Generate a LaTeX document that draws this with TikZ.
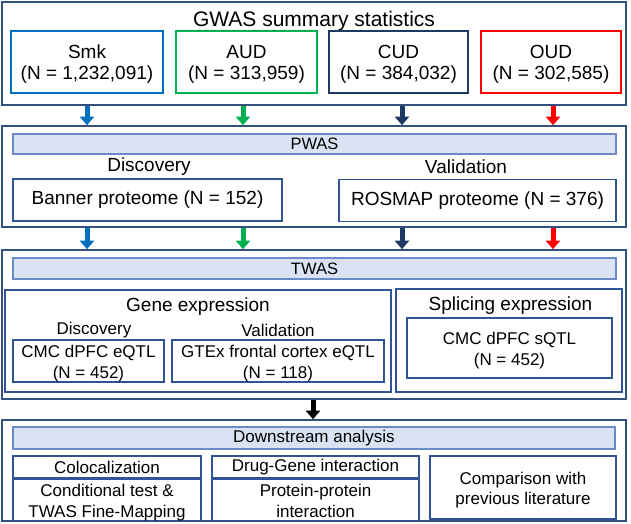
\documentclass[tikz,border=0pt]{standalone}
\usepackage{fontspec}
\setmainfont{Liberation Sans}
\usetikzlibrary{arrows.meta,positioning,calc}
\definecolor{framec}{HTML}{34507F}
\definecolor{boxc}{HTML}{2F5597}
\definecolor{headfill}{HTML}{DAE3F3}
\definecolor{headline}{HTML}{6A8AC8}
\definecolor{smkc}{HTML}{0070C0}
\definecolor{audc}{HTML}{00B050}
\definecolor{cudc}{HTML}{203864}
\definecolor{oudc}{HTML}{FF0000}
% two lines, set a little lower in their box
\newcommand{\dn}[1]{\raisebox{-3pt}[\height][\depth]{\begin{tabular}{@{}c@{}}#1\end{tabular}}}

\begin{document}
\begin{tikzpicture}[
  x=1pt,y=-1pt,
  outer/.style={draw=framec, line width=1.6pt, minimum width=624pt, inner sep=0pt},
  head/.style={draw=headline, fill=headfill, line width=1.1pt, minimum width=603pt, inner sep=0pt, font=\fontsize{16.5}{18}\selectfont},
  inbox/.style={draw=boxc, line width=1.3pt, inner sep=0pt, align=center, font=\fontsize{17}{20.5}\selectfont},
  gbox/.style={draw=#1, line width=1.3pt, inner sep=0pt, minimum height=62pt, align=center, font=\fontsize{19}{21}\selectfont},
  big/.style={inner sep=0pt, font=\fontsize{19}{21}\selectfont},
  small/.style={inner sep=0pt, font=\fontsize{17}{20}\selectfont},
  arr/.style={-{Triangle[width=14pt,length=8.5pt]}, line width=5pt, draw=#1}
]
\useasboundingbox (0,0) rectangle (631,523);

% GWAS
\node[outer, minimum height=103pt] (gwas) at (314,53.5) {};
\node[inner sep=0pt, font=\fontsize{21}{24}\selectfont, anchor=base] (gwast) at (314,26) {GWAS summary statistics};
\node[gbox=smkc, minimum width=152pt] (smk) at (87,62) {\dn{Smk\\(N = 1,232,091)}};
\node[gbox=audc, minimum width=141pt] (aud) at (246.5,62) {\dn{AUD\\(N = 313,959)}};
\node[gbox=cudc, minimum width=139pt] (cud) at (398.5,62) {\dn{CUD\\(N = 384,032)}};
\node[gbox=oudc, minimum width=140pt] (oud) at (551,62) {\dn{OUD\\(N = 302,585)}};

% PWAS
\node[outer, minimum height=101pt] (pwas) at (314,176.5) {};
\node[head, minimum height=20pt] (pwash) at (314.5,144) {PWAS};
\node[big] (pdisc) at (149,167) {Discovery};
\node[big] (pval) at (466,167) {Validation};
\node[inbox, minimum width=269pt, minimum height=42pt, font=\fontsize{19}{21}\selectfont] (banner) at (147.5,200) {Banner proteome (N = 152)};
\node[inbox, minimum width=277pt, minimum height=42pt, font=\fontsize{19}{21}\selectfont] (rosmap) at (477.5,200.5) {ROSMAP proteome (N = 376)};

% TWAS
\node[outer, minimum height=149pt] (twas) at (314,324.5) {};
\node[head, minimum height=21pt] (twash) at (314.5,268.5) {TWAS};
\node[inbox, minimum width=386pt, minimum height=102pt] (gene) at (198,341) {};
\node[big] (genet) at (198,307) {Gene expression};
\node[small] (tdisc) at (94,330) {Discovery};
\node[small] (tval) at (278,330) {Validation};
\node[inbox, minimum width=151pt, minimum height=42pt] (cmc) at (88.5,361) {\dn{CMC dPFC eQTL\\(N = 452)}};
\node[inbox, minimum width=212pt, minimum height=42pt] (gtex) at (278,361) {\dn{GTEx frontal cortex eQTL\\(N = 118)}};
\node[inbox, minimum width=226pt, minimum height=103pt] (splice) at (509,340.5) {};
\node[big] (splicet) at (510.5,306) {Splicing expression};
\node[inbox, minimum width=205pt, minimum height=60pt] (sqtl) at (509.5,348) {\dn{CMC dPFC sQTL\\(N = 452)}};

% Downstream
\node[outer, minimum height=101pt] (down) at (314,470.5) {};
\node[head, minimum width=602pt, minimum height=22pt, font=\fontsize{17}{19}\selectfont] (downh) at (314,438) {Downstream analysis};
\node[inbox, minimum width=188pt, minimum height=22pt] (coloc) at (107,467) {Colocalization};
\node[inbox, minimum width=188pt, minimum height=38pt] (cond) at (107,500) {\dn{Conditional test \&\\TWAS Fine-Mapping}};
\node[inbox, minimum width=207pt, minimum height=22pt] (drug) at (315.5,467) {Drug-Gene interaction};
\node[inbox, minimum width=207pt, minimum height=38pt] (ppi) at (315.5,500) {\dn{Protein-protein\\interaction}};
\node[inbox, minimum width=186pt, minimum height=63pt] (comp) at (523,487.5) {\dn{Comparison with\\previous literature}};

% arrows
\foreach \c/\xx in {smkc/87,audc/243,cudc/402,oudc/553} {
  \draw[arr=\c] (gwas.south -| \xx,0) -- (pwas.north -| \xx,0);
  \draw[arr=\c] (pwas.south -| \xx,0) -- (twas.north -| \xx,0);
}
\draw[arr=black] (twas.south -| 313,0) -- (down.north -| 313,0);
\end{tikzpicture}
\end{document}
